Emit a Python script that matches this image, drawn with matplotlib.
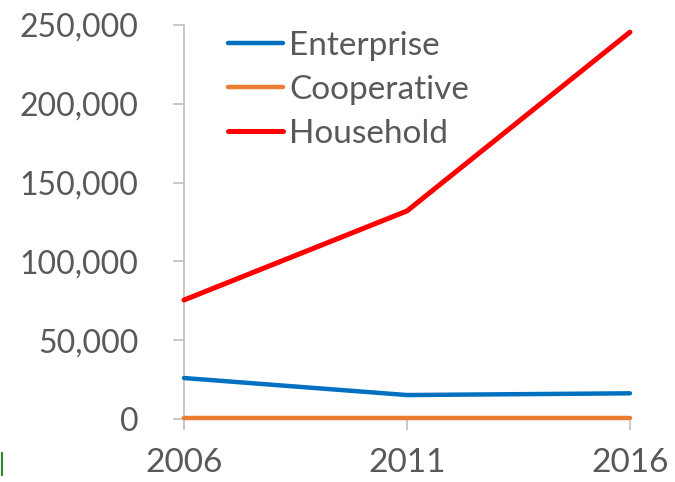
import matplotlib.pyplot as plt
from matplotlib.ticker import FuncFormatter
from matplotlib.lines import Line2D

plt.rcParams['font.family'] = ['Lato', 'DejaVu Sans']

years = ['2006', '2011', '2016']
enterprise = [26000, 15200, 16300]
cooperative = [500, 500, 500]
household = [75500, 132000, 245500]

grey = '#595959'
axis_grey = '#BFBFBF'

fig = plt.figure(figsize=(6.75, 4.82), dpi=100)
ax = fig.add_axes([0.2726, 0.1307, 0.6607, 0.8174])

x = range(len(years))
ax.plot(x, enterprise, color='#0070C0', lw=3.2, solid_capstyle='round',
        clip_on=False, zorder=4, label='Enterprise')
ax.plot(x, cooperative, color='#ED7D31', lw=3.2, solid_capstyle='round',
        clip_on=False, zorder=4, label='Cooperative')
ax.plot(x, household, color='#FF0000', lw=3.6, solid_capstyle='round',
        clip_on=False, zorder=4, label='Household')

ax.set_xlim(0, 2)
ax.set_ylim(0, 250000)
ax.set_xticks(list(x))
ax.set_xticklabels(years)
ax.set_yticks(range(0, 250001, 50000))
ax.yaxis.set_major_formatter(FuncFormatter(lambda v, p: f'{int(v):,}'))

for side in ['top', 'right']:
    ax.spines[side].set_visible(False)
ax.spines['left'].set_color(axis_grey)
ax.spines['bottom'].set_color(axis_grey)
ax.spines['left'].set_linewidth(1.2)
ax.spines['bottom'].set_linewidth(1.2)

ax.tick_params(axis='y', length=8, width=1.2, color=axis_grey, labelsize=23,
               labelcolor=grey, pad=25)
ax.tick_params(axis='x', length=8, width=1.2, color=axis_grey, labelsize=24,
               labelcolor=grey, pad=13)

leg = ax.legend(loc='upper left', bbox_to_anchor=(0.099, 0.985), frameon=False,
                fontsize=24, labelcolor=grey, handlelength=1.65,
                handletextpad=0.18, labelspacing=0.42, borderaxespad=0,
                borderpad=0)
for h in leg.get_lines():
    h.set_solid_capstyle('round')

# small green edge mark in lower-left corner
fig.add_artist(Line2D([0.003, 0.003], [0.015, 0.06], color='#2E8B2E', lw=1.5,
                      transform=fig.transFigure))

fig.savefig('out.png', dpi=100)
